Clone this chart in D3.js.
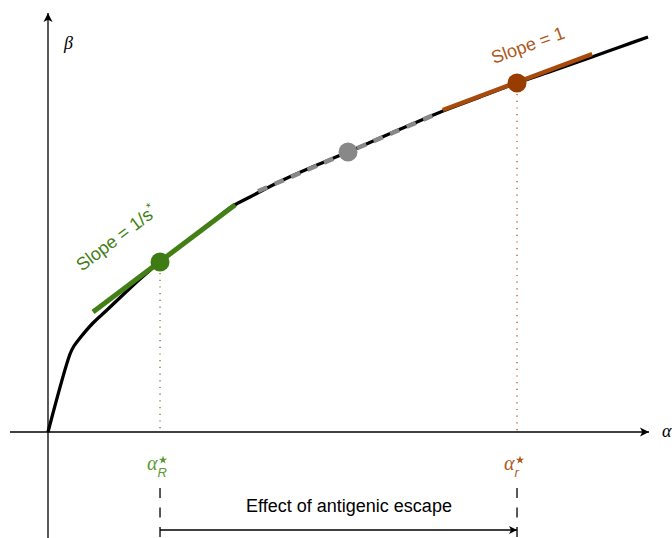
<!DOCTYPE html>
<html><head><meta charset="utf-8">
<script src="https://cdn.jsdelivr.net/npm/d3@7"></script>
<style>body{margin:0;background:#fff}svg{display:block}</style>
</head><body>
<script>
// curve (alpha, beta)
const curveAlpha = [0, 0.367, 0.433, 0.533, 0.75, 0.983, 1.317, 1.533, 1.867, 2.367, 2.733, 3.083, 3.367, 3.917, 4.483, 5.0, 5.533, 6.033, 6.583, 7.2, 7.817, 8.45, 9.067, 9.533, 10];
const curveBeta  = [0, 1.95, 2.15, 2.35, 2.725, 3.05, 3.525, 3.825, 4.25, 4.825, 5.25, 5.65, 5.875, 6.3, 6.675, 7.0, 7.35, 7.675, 8.025, 8.375, 8.725, 9.05, 9.375, 9.625, 9.875];
// tangent segments [alpha0, beta0, alpha1, beta1]
const greenTangent = [0.75, 3.0, 3.12, 5.68];
const greyTangent  = [3.5, 6.02, 6.5, 7.97];
const brownTangent = [6.58, 8.05, 9.07, 9.45];
// points
const pointAlpha = [1.867, 5.0, 7.817];
const pointBeta  = [4.25, 7.0, 8.725];
const alphaR = 1.867, alphar = 7.817;

const W = 672, H = 538;
const green = "#437f16", greenDot = "#3e7b12", greenText = "#5a9a30";
const brown = "#a84a0c", brownDot = "#983c00", brownText = "#b0561c";
const grey = "#888888";

const x = d3.scaleLinear().domain([0, 10]).range([48, 648]);
const y = d3.scaleLinear().domain([0, 10]).range([432, 32]);

const svg = d3.select("body").append("svg").attr("width", W).attr("height", H);
const defs = svg.append("defs");
defs.append("marker").attr("id","ah").attr("viewBox","0 0 10 10").attr("refX",10).attr("refY",5)
  .attr("markerWidth",8).attr("markerHeight",8).attr("markerUnits","userSpaceOnUse").attr("orient","auto")
  .append("path").attr("d","M0,0 L10,5 L0,10 L2.5,5 Z").attr("fill","#000");
defs.append("marker").attr("id","ah2").attr("viewBox","0 0 10 10").attr("refX",10).attr("refY",5)
  .attr("markerWidth",9).attr("markerHeight",10).attr("markerUnits","userSpaceOnUse").attr("orient","auto")
  .append("path").attr("d","M0,0 L10,5 L0,10 L2.5,5 Z").attr("fill","#000");

// axes
svg.append("line").attr("x1",10).attr("x2",x(10)+1).attr("y1",y(0)).attr("y2",y(0))
  .attr("stroke","#000").attr("stroke-width",1.3).attr("marker-end","url(#ah2)");
svg.append("line").attr("x1",x(0)).attr("x2",x(0)).attr("y1",H).attr("y2",13)
  .attr("stroke","#000").attr("stroke-width",1.3).attr("marker-end","url(#ah2)");
svg.append("text").attr("x",662).attr("y",437).attr("font-family","Liberation Serif").attr("font-style","italic")
  .attr("font-size",18).text("α");
svg.append("text").attr("x",64).attr("y",49).attr("font-family","Liberation Serif").attr("font-style","italic")
  .attr("font-size",18).text("β");

// dotted drop lines
[[alphaR, pointBeta[0], green],[alphar, pointBeta[2], brown]].forEach(([a,b,c])=>{
  svg.append("line").attr("x1",x(a)).attr("x2",x(a)).attr("y1",y(b)+11).attr("y2",y(0))
    .attr("stroke",c).attr("stroke-width",1.2).attr("stroke-dasharray","1.2,5.5");
});

// main curve
const pts = curveAlpha.map((a,i)=>[a, curveBeta[i]]);
svg.append("path").datum(pts)
  .attr("d", d3.line().x(d=>x(d[0])).y(d=>y(d[1])).curve(d3.curveCatmullRom.alpha(0.5)))
  .attr("fill","none").attr("stroke","#000").attr("stroke-width",3.3).attr("stroke-linejoin","round");

// tangents
function seg(t, color, w, dash){
  const l = svg.append("line").attr("x1",x(t[0])).attr("y1",y(t[1])).attr("x2",x(t[2])).attr("y2",y(t[3]))
    .attr("stroke",color).attr("stroke-width",w);
  if (dash) l.attr("stroke-dasharray",dash);
}
seg(greenTangent, green, 5);
seg(greyTangent, grey, 4.5, "10,8");
seg(brownTangent, brown, 4.5);

// points
const dotColors = [greenDot, grey, brownDot];
svg.selectAll("circle.pt").data(pointAlpha).join("circle").attr("class","pt")
  .attr("cx",(d)=>x(d)).attr("cy",(d,i)=>y(pointBeta[i])).attr("r",9.5)
  .attr("fill",(d,i)=>dotColors[i]);

// slope labels
const sans = "Liberation Sans, Arial, Helvetica, sans-serif";
const gl = svg.append("text").attr("transform","translate(120,243) rotate(-37)").attr("text-anchor","middle")
  .attr("font-family",sans).attr("font-size",18).attr("fill",green);
gl.append("tspan").text("Slope = 1/s");
gl.append("tspan").attr("dy",-7).attr("font-size",12).text("*");
svg.append("text").attr("transform","translate(530,51) rotate(-20)").attr("text-anchor","middle")
  .attr("font-family",sans).attr("font-size",18).attr("fill",brownText).text("Slope = 1");

// alpha* labels (star drawn as a symbol, subscript as tspan)
const star = d3.symbol().type(d3.symbolStar).size(22);
function alab(a, sub, color){
  const t = svg.append("text").attr("x",x(a)-13).attr("y",470).attr("fill",color);
  t.append("tspan").attr("font-family","Liberation Serif").attr("font-style","italic").attr("font-size",20).text("α");
  t.append("tspan").attr("dx",0).attr("dy",7).attr("font-family",sans).attr("font-style","italic")
    .attr("font-size",13).text(sub);
  svg.append("path").attr("d",star()).attr("transform",`translate(${x(a)+3},${460})`).attr("fill",color);
}
alab(alphaR, "R", greenText);
alab(alphar, "r", brownText);

// dashed verticals and escape arrow
[alphaR, alphar].forEach(a=>{
  svg.append("line").attr("x1",x(a)).attr("x2",x(a)).attr("y1",488).attr("y2",H)
    .attr("stroke","#000").attr("stroke-width",1.3).attr("stroke-dasharray","10,9.5");
});
svg.append("line").attr("x1",x(alphaR)).attr("x2",x(alphar)).attr("y1",530).attr("y2",530)
  .attr("stroke","#000").attr("stroke-width",1.3).attr("marker-end","url(#ah)");
svg.append("text").attr("x",349).attr("y",512).attr("text-anchor","middle")
  .attr("font-family",sans).attr("font-size",18).attr("fill","#000").text("Effect of antigenic escape");
</script>
</body></html>
